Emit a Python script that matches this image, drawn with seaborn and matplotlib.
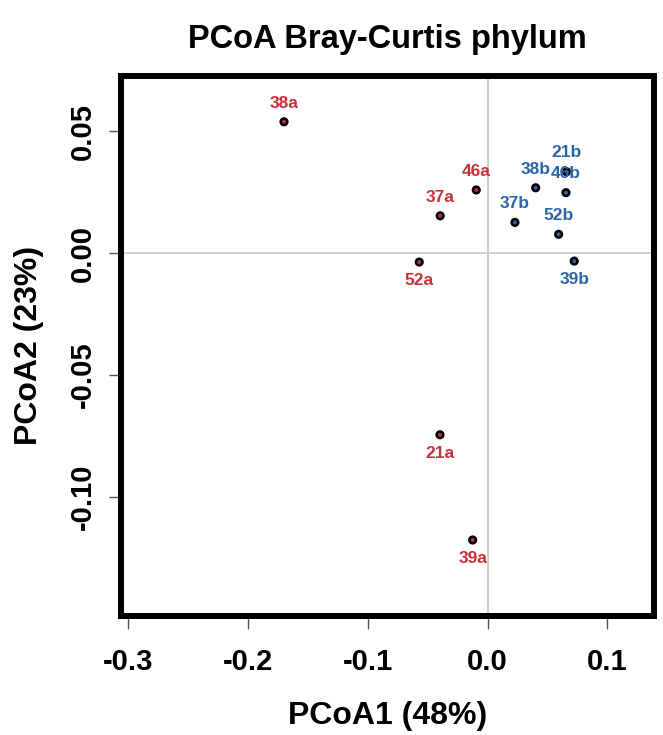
import pandas as pd
import matplotlib
matplotlib.use("Agg")
import matplotlib.pyplot as plt
import seaborn as sns

# PCoA coordinates
samples = ['38a', '46a', '37a', '52a', '21a', '39a',
           '37b', '38b', '21b', '46b', '52b', '39b']
pcoa1 = [-0.170, -0.0095, -0.0396, -0.0571, -0.0398, -0.0125,
         0.0228, 0.0401, 0.0659, 0.0654, 0.0593, 0.0723]
pcoa2 = [0.0539, 0.0259, 0.0153, -0.0037, -0.0746, -0.1178,
         0.0126, 0.0268, 0.0334, 0.0248, 0.0077, -0.0033]
group = ['a'] * 6 + ['b'] * 6
label_pos = ['above', 'above', 'above', 'below', 'below', 'below',
             'above', 'above', 'above', 'above', 'above', 'below']

x_ticks = [-0.3, -0.2, -0.1, 0.0, 0.1]
y_ticks = [0.05, 0.00, -0.05, -0.10]

colors = {'a': '#c8313a', 'b': '#2b65a8'}

df = pd.DataFrame({'sample': samples, 'PCoA1': pcoa1, 'PCoA2': pcoa2,
                   'group': group, 'pos': label_pos})

sns.set_style('white')
plt.rcParams['font.family'] = ['Liberation Sans', 'DejaVu Sans']
plt.rcParams['font.weight'] = 'bold'
plt.rcParams['text.color'] = 'black'
plt.rcParams['axes.labelcolor'] = 'black'
plt.rcParams['xtick.labelcolor'] = 'black'
plt.rcParams['ytick.labelcolor'] = 'black'

fig = plt.figure(figsize=(6.63, 7.35), dpi=100)
ax = fig.add_axes([120.5 / 663, 1 - 616 / 735, (654 - 120.5) / 663, (616 - 75.5) / 735])

ax.axhline(0, color='#cccccc', lw=1.3, zorder=0)
ax.axvline(0, color='#cccccc', lw=1.3, zorder=0)

sns.scatterplot(data=df, x='PCoA1', y='PCoA2', hue='group', palette=colors,
                s=22, edgecolor='black', linewidth=1.9, legend=False, ax=ax, zorder=3)

for _, r in df.iterrows():
    dy = 13.5 if r['pos'] == 'above' else -13.5
    ax.annotate(r['sample'], (r['PCoA1'], r['PCoA2']), xytext=(0, dy),
                textcoords='offset points', ha='center', va='center',
                color=colors[r['group']], fontsize=12.5, fontweight='bold', zorder=4)

ax.set_xlim(-0.3065, 0.1389)
ax.set_ylim(-0.149, 0.0729)
ax.set_xticks(x_ticks)
ax.set_xticklabels([f'{v:.1f}' for v in x_ticks])
ax.set_yticks(y_ticks)
ax.set_yticklabels([f'{v:.2f}' for v in y_ticks], rotation=90, va='center')
ax.tick_params(axis='both', direction='out', length=9, width=1, color='#555555',
               labelsize=21, bottom=True, left=True)
ax.tick_params(axis='x', pad=14)
ax.tick_params(axis='y', pad=8)
for lab in ax.get_xticklabels() + ax.get_yticklabels():
    lab.set_fontweight('bold')

for sp in ax.spines.values():
    sp.set_visible(True)
    sp.set_linewidth(4.3)
    sp.set_color('black')

ax.set_xlabel('PCoA1 (48%)', fontsize=23, fontweight='bold', labelpad=18)
ax.set_ylabel('PCoA2 (23%)', fontsize=23, fontweight='bold', labelpad=18)
ax.set_title('PCoA Bray-Curtis phylum', fontsize=23.5, fontweight='bold', pad=20)

plt.savefig('out.png', dpi=100)
plt.close()
